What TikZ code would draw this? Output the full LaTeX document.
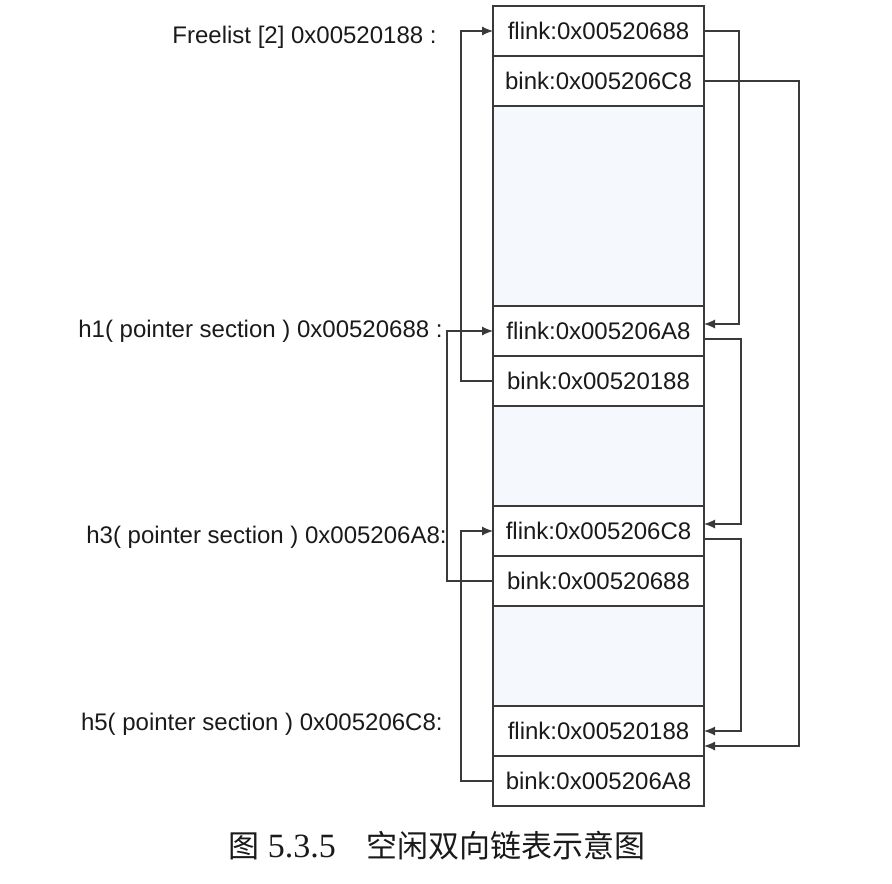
\documentclass[tikz,border=0pt]{standalone}
\usepackage{fontspec}
\setmainfont{Liberation Sans}
\newfontfamily\capserif{Liberation Serif}
\newfontfamily\cjk{Noto Sans CJK SC}
\usetikzlibrary{arrows.meta,calc,positioning}
\definecolor{heapink}{HTML}{1A1A1A}
\definecolor{heapline}{HTML}{3A3A3A}
\definecolor{heapgap}{HTML}{F5F8FC}
\tikzset{
  cellbox/.style={draw=heapline, fill=white, line width=.6pt,
    minimum width=105.5pt, minimum height=25pt, inner sep=0pt, outer sep=0pt,
    font=\fontsize{12}{14}\selectfont, text=heapink},
  gapbox/.style={draw=heapline, fill=heapgap, line width=.6pt,
    minimum width=105.5pt, inner sep=0pt, outer sep=0pt},
  addrtext/.style={font=\fontsize{12}{14}\selectfont, text=heapink, anchor=east,
    inner sep=0pt},
  linkflow/.style={-{Latex[length=5.5pt,width=4.5pt]}, draw=heapline, line width=.55pt},
  capttext/.style={font=\capserif\fontsize{17}{20}\selectfont, text=heapink}
}

\begin{document}
\begin{tikzpicture}[x=.5pt,y=-.5pt]
  \useasboundingbox (0,0) rectangle (892,883);
  % free chunks stacked top to bottom, links drawn on both sides
  \node[cellbox, anchor=north west] (fl0) at (493,6) {flink:0x00520688};
  \node[cellbox, below=0pt of fl0] (bk0) {bink:0x005206C8};
  \node[gapbox, minimum height=100pt, below=0pt of bk0] (g0) {};
  \node[cellbox, below=0pt of g0] (fl1) {flink:0x005206A8};
  \node[cellbox, below=0pt of fl1] (bk1) {bink:0x00520188};
  \node[gapbox, minimum height=50pt, below=0pt of bk1] (g1) {};
  \node[cellbox, below=0pt of g1] (fl3) {flink:0x005206C8};
  \node[cellbox, below=0pt of fl3] (bk3) {bink:0x00520688};
  \node[gapbox, minimum height=50pt, below=0pt of bk3] (g3) {};
  \node[cellbox, below=0pt of g3] (fl5) {flink:0x00520188};
  \node[cellbox, below=0pt of fl5] (bk5) {bink:0x005206A8};

  \node[addrtext] (lfree) at (437,37) {Freelist [2] 0x00520188 :};
  \node[addrtext] (lh1) at (443,331) {h1( pointer section ) 0x00520688 :};
  \node[addrtext] (lh3) at (447,537) {h3( pointer section ) 0x005206A8:};
  \node[addrtext] (lh5) at (443,724) {h5( pointer section ) 0x005206C8:};

  % forward links (right)
  \draw[linkflow] (fl0.east) -- ++(35,0) |- ($(fl1.east)+(0,-7)$);
  \draw[linkflow] ($(fl1.east)+(0,8)$) -- ++(37,0) |- ($(fl3.east)+(0,-7)$);
  \draw[linkflow] ($(fl3.east)+(0,8)$) -- ++(37,0) |- (fl5.east);
  \draw[linkflow] (bk0.east) -- ++(95,0) |- ($(fl5.east)+(0,15)$);
  % backward links (left)
  \draw[linkflow] (bk1.west) -- ++(-32,0) |- (fl0.west);
  \draw[linkflow] (bk3.west) -- ++(-46,0) |- (fl1.west);
  \draw[linkflow] (bk5.west) -- ++(-32,0) |- (fl3.west);

  \node[capttext] (cap) at (437,846)
    {{\cjk\fontsize{15.5}{18}\selectfont 图} 5.3.5{\cjk\fontsize{15.5}{18}\selectfont 　空闲双向链表示意图}};
\end{tikzpicture}
\end{document}
